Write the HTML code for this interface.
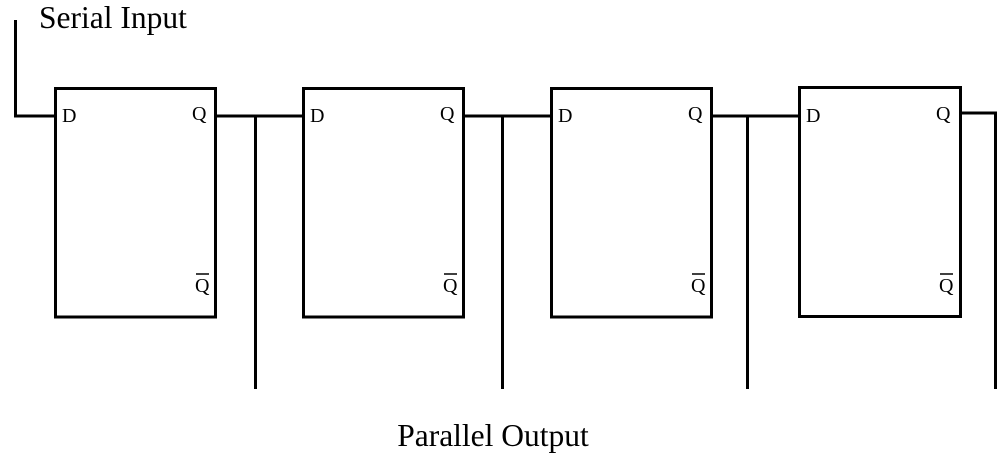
<!DOCTYPE html>
<html><head><style>
html,body{margin:0;padding:0;background:#fff;}
svg{display:block;}
text{font-family:"Liberation Serif",serif;fill:#000;}
</style></head><body>
<svg width="1005" height="459" viewBox="0 0 1005 459" xmlns="http://www.w3.org/2000/svg">
<g fill="none" stroke="#000" stroke-width="3">
<polyline points="15.5,20 15.5,116 55,116"/>
<rect x="55.5" y="88.5" width="160" height="228.5"/>
<rect x="303.5" y="88.5" width="160" height="228.5"/>
<rect x="551.5" y="88.5" width="160" height="228.5"/>
<rect x="799.5" y="87.5" width="161" height="229"/>
<line x1="217" y1="116" x2="303" y2="116"/>
<line x1="255.5" y1="116" x2="255.5" y2="389"/>
<line x1="465" y1="116" x2="551" y2="116"/>
<line x1="502.5" y1="116" x2="502.5" y2="389"/>
<line x1="713" y1="116" x2="799" y2="116"/>
<line x1="747.5" y1="116" x2="747.5" y2="389"/>
<polyline points="962,113 995.5,113 995.5,389"/>
</g>
<text x="39" y="28" font-size="31.5">Serial Input</text>
<text x="493" y="446" font-size="31.5" text-anchor="middle">Parallel Output</text>
<g font-size="20">
<text x="62" y="122">D</text><text x="192" y="120">Q</text><text x="195" y="292">Q</text>
<text x="310" y="122">D</text><text x="440" y="120">Q</text><text x="443" y="292">Q</text>
<text x="558" y="122">D</text><text x="688" y="120">Q</text><text x="691" y="292">Q</text>
<text x="806" y="122">D</text><text x="936" y="120">Q</text><text x="939" y="292">Q</text>
</g>
<g stroke="#000" stroke-width="1.5">
<line x1="196" y1="274" x2="209" y2="274"/>
<line x1="444" y1="274" x2="457" y2="274"/>
<line x1="692" y1="274" x2="705" y2="274"/>
<line x1="940" y1="274" x2="953" y2="274"/>
</g>
</svg>
</body></html>
